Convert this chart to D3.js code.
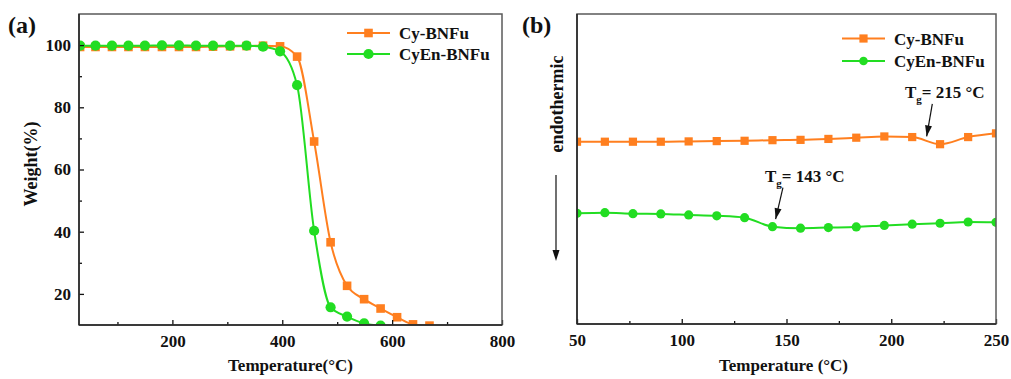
<!DOCTYPE html>
<html>
<head>
<meta charset="utf-8">
<script src="https://cdn.jsdelivr.net/npm/d3@7"></script>
<style>
  body { margin: 0; background: #fff; }
  svg { display: block; }
  text { font-family: "Liberation Serif", "Times New Roman", serif; font-weight: bold; fill: #111; }
</style>
</head>
<body>
<svg id="chart" width="1011" height="379"></svg>
<script>
// ---- (a) TGA: residual weight vs temperature ----
const tgaTemp  = [32, 60, 90, 120, 150, 181, 212, 243, 274, 305, 335, 365, 396, 427, 458, 488, 518, 549, 579, 609, 638, 668];
const tgaCy    = [99.4, 99.4, 99.4, 99.4, 99.4, 99.4, 99.4, 99.4, 99.5, 99.6, 99.7, 99.8, 99.6, 96.3, 69.0, 36.6, 22.6, 18.3, 15.3, 12.5, 10.2, 9.8];
const tgaCyEn  = [99.8, 99.8, 99.8, 99.8, 99.8, 99.9, 99.9, 99.8, 99.8, 99.8, 99.8, 99.5, 98.0, 87.1, 40.3, 15.7, 12.7, 10.5, 9.8];
const tgaXTicks = [200, 400, 600, 800];
const tgaXMinor = [100, 300, 500, 700];
const tgaYTicks = [20, 40, 60, 80, 100];
const tgaYMinor = [30, 50, 70, 90];

// ---- (b) DSC: heat flow (arbitrary units) vs temperature ----
const dscTemp  = [50, 63.3, 76.7, 90, 103.3, 116.7, 130, 143.3, 156.7, 170, 183.3, 196.7, 210, 223.3, 236.7, 250];
const dscCy    = [5.88, 5.88, 5.88, 5.88, 5.89, 5.90, 5.91, 5.93, 5.94, 5.97, 6.01, 6.05, 6.03, 5.80, 6.03, 6.15];
const dscCyEn  = [3.57, 3.59, 3.56, 3.55, 3.52, 3.49, 3.43, 3.14, 3.09, 3.11, 3.13, 3.18, 3.22, 3.25, 3.29, 3.28];
const dscXTicks = [50, 100, 150, 200, 250];
const dscXMinor = [75, 125, 175, 225];

const seriesNames = ["Cy-BNFu", "CyEn-BNFu"];
const seriesColors = ["#FF7F1F", "#22DD22"];
const tgValues = [215, 143];

const svg = d3.select("#chart");

function drawAxes(g, x, y, xTicks, xMinor, yTicks, yMinor, w, h) {
  const bottom = g.append("g").attr("transform", `translate(0,${h})`)
    .call(d3.axisBottom(x).tickValues(xTicks).tickSizeInner(-5).tickSizeOuter(0).tickPadding(10).tickFormat(d3.format("d")));
  bottom.select(".domain").remove();
  bottom.selectAll("text").style("font-size", "17px").attr("fill", "#111");
  bottom.selectAll("line").attr("stroke", "#111").attr("stroke-width", 1.3);
  const bMin = g.append("g").attr("transform", `translate(0,${h})`)
    .call(d3.axisBottom(x).tickValues(xMinor).tickSizeInner(-3).tickSizeOuter(0).tickFormat(""));
  bMin.select(".domain").remove();
  bMin.selectAll("line").attr("stroke", "#111").attr("stroke-width", 1.3);
  if (yTicks) {
    const left = g.append("g")
      .call(d3.axisLeft(y).tickValues(yTicks).tickSizeInner(-5).tickSizeOuter(0).tickPadding(8).tickFormat(d3.format("d")));
    left.select(".domain").remove();
    left.selectAll("text").style("font-size", "17px").attr("fill", "#111");
    left.selectAll("line").attr("stroke", "#111").attr("stroke-width", 1.3);
    const lMin = g.append("g")
      .call(d3.axisLeft(y).tickValues(yMinor).tickSizeInner(-3).tickSizeOuter(0).tickFormat(""));
    lMin.select(".domain").remove();
    lMin.selectAll("line").attr("stroke", "#111").attr("stroke-width", 1.3);
  }
  // frame: grey top/right, black left/bottom
  g.append("rect").attr("width", w).attr("height", h)
    .attr("fill", "none").attr("stroke", "#5a5a5a").attr("stroke-width", 1.5);
  g.append("line").attr("x1", 0).attr("x2", 0).attr("y1", 0).attr("y2", h)
    .attr("stroke", "#222").attr("stroke-width", 1.5);
  g.append("line").attr("x1", 0).attr("x2", w).attr("y1", h).attr("y2", h)
    .attr("stroke", "#222").attr("stroke-width", 1.5);
}

function drawSeries(g, clipId, x, y, temps, vals, color, shape, size) {
  const pts = vals.map((v, i) => [temps[i], v]);
  const layer = g.append("g").attr("clip-path", `url(#${clipId})`);
  layer.append("path")
    .attr("d", d3.line().x(d => x(d[0])).y(d => y(d[1])).curve(d3.curveMonotoneX)(pts))
    .attr("fill", "none").attr("stroke", color).attr("stroke-width", 2);
  if (shape === "square") {
    layer.selectAll("rect.m").data(pts).join("rect").attr("class", "m")
      .attr("x", d => x(d[0]) - size / 2).attr("y", d => y(d[1]) - size / 2)
      .attr("width", size).attr("height", size).attr("fill", color);
  } else {
    layer.selectAll("circle.m").data(pts).join("circle").attr("class", "m")
      .attr("cx", d => x(d[0])).attr("cy", d => y(d[1])).attr("r", size).attr("fill", color);
  }
}

function drawLegend(g, lx, ly, gap, sq, r) {
  seriesNames.forEach((name, i) => {
    const yy = ly + i * gap;
    g.append("line").attr("x1", lx).attr("x2", lx + 43).attr("y1", yy).attr("y2", yy)
      .attr("stroke", seriesColors[i]).attr("stroke-width", 2);
    if (i === 0) {
      g.append("rect").attr("x", lx + 21.5 - sq / 2).attr("y", yy - sq / 2)
        .attr("width", sq).attr("height", sq).attr("fill", seriesColors[i]);
    } else {
      g.append("circle").attr("cx", lx + 21.5).attr("cy", yy).attr("r", r).attr("fill", seriesColors[i]);
    }
    g.append("text").attr("x", lx + 52).attr("y", yy + 6).style("font-size", "17px").text(name);
  });
}

// ================= Panel (a) =================
{
  const L = 79, T = 14, W = 423, H = 311;
  const g = svg.append("g").attr("transform", `translate(${L},${T})`);
  const x = d3.scaleLinear().domain([30, 800]).range([0, W]);
  const y = d3.scaleLinear().domain([10, 110]).range([H, 0]);
  svg.append("defs").append("clipPath").attr("id", "clipA")
    .append("rect").attr("width", W).attr("height", H);

  drawSeries(g, "clipA", x, y, tgaTemp, tgaCy, seriesColors[0], "square", 8.6);
  drawSeries(g, "clipA", x, y, tgaTemp.slice(0, tgaCyEn.length), tgaCyEn, seriesColors[1], "circle", 5.1);
  drawAxes(g, x, y, tgaXTicks, tgaXMinor, tgaYTicks, tgaYMinor, W, H);
  drawLegend(svg, 347, 33, 21, 8.6, 5.1);

  svg.append("text").attr("x", L + W / 2).attr("y", 371).attr("text-anchor", "middle")
    .style("font-size", "17px").text("Temperature(°C)");
  svg.append("text").attr("transform", "translate(37,164) rotate(-90)").attr("text-anchor", "middle")
    .style("font-size", "18px").text("Weight(%)");
  svg.append("text").attr("x", 8).attr("y", 33).style("font-size", "24px").text("(a)");
}

// ================= Panel (b) =================
{
  const L = 577, T = 14, W = 419, H = 310;
  const g = svg.append("g").attr("transform", `translate(${L},${T})`);
  const x = d3.scaleLinear().domain([50, 250]).range([0, W]);
  const y = d3.scaleLinear().domain([0, 10]).range([H, 0]);
  svg.select("defs").append("clipPath").attr("id", "clipB")
    .append("rect").attr("width", W).attr("height", H);

  drawSeries(g, "clipB", x, y, dscTemp, dscCy, seriesColors[0], "square", 8.2);
  drawSeries(g, "clipB", x, y, dscTemp, dscCyEn, seriesColors[1], "circle", 4.6);
  drawAxes(g, x, y, dscXTicks, dscXMinor, null, null, W, H);
  drawLegend(svg, 842, 38.5, 22.5, 8.2, 4.3);

  // glass-transition annotations
  const arrowHead = (tip, tail) => {
    const ang = Math.atan2(tip[1] - tail[1], tip[0] - tail[0]);
    const len = 11, half = 3.5;
    const bx = tip[0] - len * Math.cos(ang), by = tip[1] - len * Math.sin(ang);
    const px = -Math.sin(ang) * half, py = Math.cos(ang) * half;
    return `M${tip[0]},${tip[1]}L${bx + px},${by + py}L${bx - px},${by - py}Z`;
  };
  const notes = [
    { tg: tgValues[0], tx: 905, ty: 98, tail: [219.6, 7.1], tip: [216.9, 6.05] },
    { tg: tgValues[1], tx: 765, ty: 182, tail: [148.3, 4.4], tip: [144.8, 3.38] }
  ];
  notes.forEach(n => {
    const t = svg.append("text").attr("x", n.tx).attr("y", n.ty).style("font-size", "17px");
    t.append("tspan").text("T");
    t.append("tspan").attr("dy", 5).style("font-size", "11px").text("g");
    t.append("tspan").attr("dy", -5).text(`= ${n.tg} °C`);
    const p0 = [x(n.tail[0]) + L, y(n.tail[1]) + T];
    const p1 = [x(n.tip[0]) + L, y(n.tip[1]) + T];
    svg.append("line").attr("x1", p0[0]).attr("y1", p0[1]).attr("x2", p1[0]).attr("y2", p1[1])
      .attr("stroke", "#111").attr("stroke-width", 1.2);
    svg.append("path").attr("d", arrowHead(p1, p0)).attr("fill", "#111");
  });

  // endothermic direction marker
  svg.append("text").attr("transform", "translate(563,104) rotate(-90)").attr("text-anchor", "middle")
    .style("font-size", "18px").text("endothermic");
  svg.append("line").attr("x1", 556).attr("x2", 556).attr("y1", 175).attr("y2", 250)
    .attr("stroke", "#111").attr("stroke-width", 1.2);
  svg.append("path").attr("d", arrowHead([556, 261], [556, 175])).attr("fill", "#111");

  svg.append("text").attr("x", L + W / 2 - 3).attr("y", 371).attr("text-anchor", "middle")
    .style("font-size", "17px").text("Temperature (°C)");
  svg.append("text").attr("x", 522).attr("y", 33).style("font-size", "24px").text("(b)");
}
</script>
</body>
</html>
